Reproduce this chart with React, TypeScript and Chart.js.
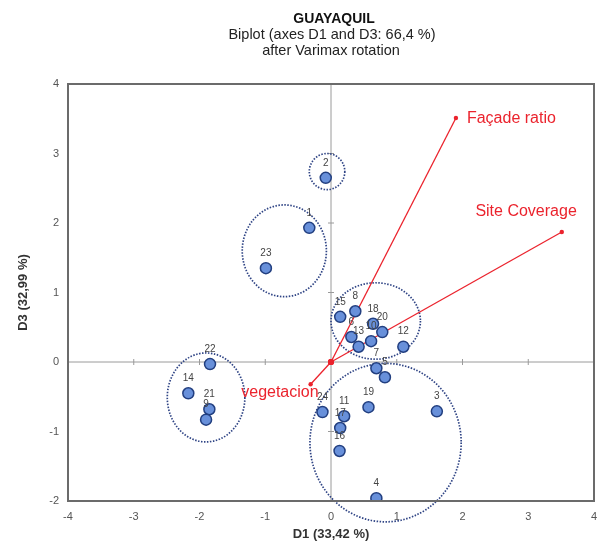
import React, { useEffect, useRef } from "react";
import { Chart, registerables } from "chart.js";
Chart.register(...registerables);

// Observations (D1, D3)
const obsLabels = ["2", "1", "23", "8", "15", "18", "20", "6", "10", "13", "12", "7", "5", "19", "3", "24", "11", "17", "16", "4", "22", "14", "21", "9"];
const obsD1 = [-0.08, -0.33, -0.99, 0.37, 0.14, 0.64, 0.78, 0.31, 0.61, 0.42, 1.1, 0.69, 0.82, 0.57, 1.61, -0.13, 0.2, 0.14, 0.13, 0.69, -1.84, -2.17, -1.85, -1.9];
const obsD3 = [2.65, 1.93, 1.35, 0.73, 0.65, 0.55, 0.43, 0.36, 0.3, 0.22, 0.22, -0.09, -0.22, -0.65, -0.71, -0.72, -0.78, -0.95, -1.28, -1.96, -0.03, -0.45, -0.68, -0.83];

// Variables (vectors)
const varNames = ["Façade ratio", "Site Coverage", "vegetacion"];
const varD1 = [1.9, 3.51, -0.31];
const varD3 = [3.51, 1.87, -0.32];

// Cluster outlines (data units)
const clusterCX = [-0.06, -0.71, 0.68, -1.9, 0.83];
const clusterCY = [2.74, 1.6, 0.59, -0.51, -1.16];
const clusterRX = [0.27, 0.64, 0.68, 0.59, 1.15];
const clusterRY = [0.26, 0.66, 0.55, 0.64, 1.14];

const xTicksMin = -4, xTicksMax = 4;
const yTicksMin = -2, yTicksMax = 4;

const titleLines = ["GUAYAQUIL", "Biplot (axes D1 and D3: 66,4 %)", "after Varimax rotation"];
const xTitle = "D1 (33,42 %)";
const yTitle = "D3 (32,99 %)";

const FONT = '"Liberation Sans", Arial, sans-serif';
const RED = "rgb(235,35,45)";

const biplotPlugin = {
  id: "biplot",
  beforeDatasetsDraw(chart: any) {
    const { ctx, chartArea: a, scales } = chart;
    const xs = scales.x, ys = scales.y;
    ctx.save();
    // zero axes
    const x0 = xs.getPixelForValue(0), y0 = ys.getPixelForValue(0);
    ctx.strokeStyle = "#9a9a9a";
    ctx.lineWidth = 1;
    ctx.beginPath();
    ctx.moveTo(a.left, y0); ctx.lineTo(a.right, y0);
    ctx.moveTo(x0, a.top); ctx.lineTo(x0, a.bottom);
    for (let v = xTicksMin + 1; v < xTicksMax; v++) {
      const px = xs.getPixelForValue(v);
      ctx.moveTo(px, y0 - 3); ctx.lineTo(px, y0 + 3);
    }
    for (let v = yTicksMin + 1; v < yTicksMax; v++) {
      const py = ys.getPixelForValue(v);
      ctx.moveTo(x0 - 3, py); ctx.lineTo(x0 + 3, py);
    }
    ctx.stroke();
    // cluster outlines
    ctx.strokeStyle = "#2f4485";
    ctx.lineWidth = 1.7;
    ctx.setLineDash([1.5, 1.5]);
    const sx = Math.abs(xs.getPixelForValue(1) - xs.getPixelForValue(0));
    const sy = Math.abs(ys.getPixelForValue(1) - ys.getPixelForValue(0));
    for (let i = 0; i < clusterCX.length; i++) {
      ctx.beginPath();
      ctx.ellipse(xs.getPixelForValue(clusterCX[i]), ys.getPixelForValue(clusterCY[i]), clusterRX[i] * sx, clusterRY[i] * sy, 0, 0, Math.PI * 2);
      ctx.stroke();
    }
    ctx.restore();
  },
  afterDatasetsDraw(chart: any) {
    const { ctx } = chart;
    ctx.save();
    // observation labels
    const meta = chart.getDatasetMeta(0);
    ctx.fillStyle = "#444";
    ctx.font = `10px ${FONT}`;
    ctx.textAlign = "center";
    ctx.textBaseline = "middle";
    meta.data.forEach((el: any, i: number) => {
      ctx.fillText(obsLabels[i], el.x, el.y - 15);
    });
    // variable labels
    ctx.fillStyle = RED;
    ctx.font = `16px ${FONT}`;
    const vm = chart.getDatasetMeta(1);
    const tips = [vm.data[1], vm.data[3], vm.data[5]];
    ctx.textAlign = "left";
    ctx.fillText(varNames[0], tips[0].x + 11, tips[0].y + 1);
    ctx.textAlign = "right";
    ctx.fillText(varNames[1], tips[1].x + 15, tips[1].y - 20);
    ctx.textAlign = "right";
    ctx.fillText(varNames[2], tips[2].x + 8, tips[2].y + 8);
    ctx.restore();
  },
  afterDraw(chart: any) {
    const { ctx, chartArea: a } = chart;
    ctx.save();
    ctx.strokeStyle = "#6b6b6b";
    ctx.lineWidth = 2;
    ctx.strokeRect(a.left, a.top, a.right - a.left, a.bottom - a.top);
    ctx.textAlign = "center";
    ctx.textBaseline = "middle";
    ctx.fillStyle = "#111";
    ctx.font = `bold 14px ${FONT}`;
    ctx.fillText(titleLines[0], 334, 19);
    ctx.fillStyle = "#222";
    ctx.font = `14.5px ${FONT}`;
    ctx.fillText(titleLines[1], 332, 35);
    ctx.fillText(titleLines[2], 331, 51);
    ctx.restore();
  },
};

export default function App() {
  const ref = useRef<HTMLCanvasElement>(null);
  useEffect(() => {
    document.body.style.margin = "0";
    const obsData = obsD1.map((x, i) => ({ x, y: obsD3[i] }));
    const vecData: any[] = [];
    varD1.forEach((x, i) => {
      vecData.push({ x: 0, y: 0 });
      vecData.push({ x, y: varD3[i] });
    });
    const vecRadius = varD1.flatMap(() => [3, 2.2]);
    const chart = new Chart(ref.current!, {
      type: "scatter",
      data: {
        datasets: [
          {
            data: obsData,
            backgroundColor: "#6890da",
            borderColor: "#223f80",
            borderWidth: 1.5,
            pointRadius: 5.5,
          },
          {
            data: vecData,
            showLine: true,
            borderColor: RED,
            backgroundColor: RED,
            borderWidth: 1.3,
            pointRadius: vecRadius,
            pointBorderWidth: 0,
            segment: {
              borderColor: (c: any) => (c.p0DataIndex % 2 === 0 ? RED : "rgba(0,0,0,0)"),
            },
          } as any,
        ],
      },
      options: {
        responsive: false,
        animation: false,
        devicePixelRatio: 1,
        layout: { padding: { left: 0, right: 4, top: 84, bottom: 0 } },
        plugins: { legend: { display: false }, tooltip: { enabled: false } },
        scales: {
          x: {
            type: "linear",
            min: xTicksMin,
            max: xTicksMax,
            grid: { display: false, drawTicks: true, tickLength: 9 },
            border: { display: false },
            ticks: { stepSize: 1, padding: 0, color: "#555", font: { family: FONT, size: 11 } },
            title: { display: true, text: xTitle, color: "#333", font: { family: FONT, size: 13, weight: "bold" }, padding: { top: 0, bottom: 3 } },
            afterFit: (s: any) => { s.height = 44; s.paddingLeft = 0; s.paddingRight = 0; },
          },
          y: {
            type: "linear",
            min: yTicksMin,
            max: yTicksMax,
            grid: { display: false, drawTicks: true, tickLength: 9 },
            border: { display: false },
            ticks: { stepSize: 1, padding: 0, color: "#555", font: { family: FONT, size: 11 } },
            title: { display: true, text: yTitle, color: "#333", font: { family: FONT, size: 13, weight: "bold" }, padding: { top: 16, bottom: 0 } },
            afterFit: (s: any) => { s.width = 68; s.paddingTop = 0; s.paddingBottom = 0; },
          },
        },
      },
      plugins: [biplotPlugin],
    });
    return () => chart.destroy();
  }, []);
  return (
    <canvas ref={ref} width={601} height={545} style={{ display: "block", position: "absolute", left: 0, top: 0 }} />
  );
}
